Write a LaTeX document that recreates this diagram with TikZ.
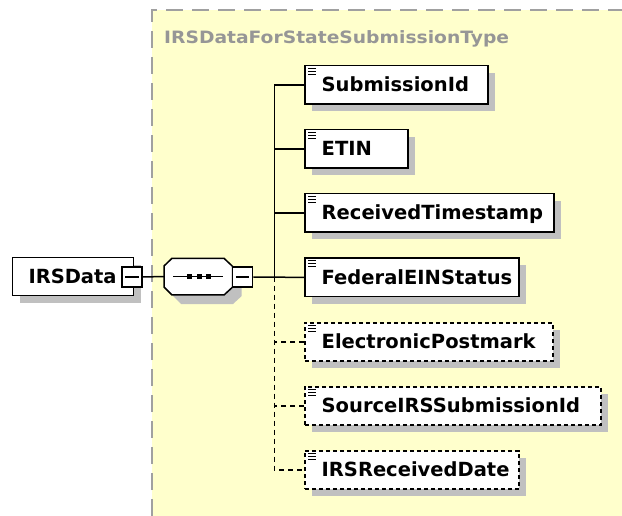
\documentclass[tikz,border=0pt]{standalone}
\usepackage{fontspec}
\usepackage{graphicx}
\setmainfont{DejaVu Sans}
\definecolor{ybg}{RGB}{255,255,204}
\definecolor{shd}{RGB}{192,192,192}
\definecolor{ttl}{RGB}{150,150,150}
\definecolor{brd}{RGB}{160,160,160}
\tikzset{
  elem/.style={draw=black, line width=1.5pt, fill=white, minimum height=38.3pt, anchor=north west, inner sep=0pt},
  optelem/.style={elem, dash pattern=on 4pt off 3pt},
  lbl/.style={anchor=base west, font=\fontsize{19.5}{19.5}\selectfont\bfseries, inner sep=0pt},
  conn/.style={line width=1.5pt},
  optconn/.style={conn, dash pattern=on 5pt off 4pt},
  minusbox/.style={draw, fill=white, line width=1.5pt, minimum size=20pt, inner sep=0pt},
}
\newcommand\elembox[6]{%
  \fill[shd] ({#2+8},{#3+8}) rectangle ({#2+#4+8},{#3+46.3});
  \node[#5, minimum width=#4pt] (#1) at (#2,#3) {};
  \draw[line width=1pt] ({#2+4},{#3+3.5}) -- +(8,0) ({#2+4},{#3+6.5}) -- +(8,0) ({#2+4},{#3+9.5}) -- +(8,0);
  \node[lbl] (#1-t) at ([xshift=17.5pt,yshift=-6.8pt]#1.west) {#6};
}
\newcommand\octpath{(164,266) -- (172,258.3) -- (224,258.3) -- (232.7,266.5) -- (232.7,287) -- (224,295) -- (172,295) -- (164,287) -- cycle}
\begin{document}
\begin{tikzpicture}[x=1pt,y=-1pt]
\useasboundingbox[fill=white] (0,0) rectangle (622,516);
% complex type region
\fill[ybg] (152,10) rectangle (622,516);
\draw[brd, line width=1.8pt, dash pattern=on 17pt off 9pt] (152,516) -- (152,10) -- (622,10);
\node[anchor=base west, text=ttl, font=\fontsize{17}{17}\selectfont\bfseries, inner sep=0pt] (title) at (164,43.3) {\scalebox{1.1}[1]{IRSDataForStateSubmissionType}};

% root element
\fill[shd] (19.7,264.7) rectangle (140.7,303);
\node[elem, minimum width=121pt] (root) at (11.7,256.7) {};
\node[lbl] (root-t) at ([xshift=16.6pt,yshift=-6.8pt]root.west) {IRSData};
\node[minusbox] (rootm) at (132.2,276.8) {};
\draw[line width=1.5pt] ([xshift=4pt]rootm.west) -- ([xshift=-4pt]rootm.east);

% sequence compositor
\fill[shd, shift={(9,9)}] \octpath;
\draw[fill=white, line width=1.5pt] \octpath;
\coordinate (seqw) at (164,276.7);
\draw[line width=1.5pt] (173.3,276.7) -- (223.3,276.7);
\fill (186.8,274.2) rectangle +(5,5);
\fill (196.8,274.2) rectangle +(5,5);
\fill (205.8,274.2) rectangle +(5,5);
\node[minusbox] (seqm) at (242.7,277) {};
\draw[line width=1.5pt] ([xshift=4pt]seqm.west) -- ([xshift=-4pt]seqm.east);

% child elements
\elembox{sub}{304}{65}{183}{elem}{SubmissionId}
\elembox{etin}{304}{129}{103}{elem}{ETIN}
\elembox{rts}{304}{193}{249}{elem}{ReceivedTimestamp}
\elembox{fein}{304}{257.5}{214}{elem}{FederalEINStatus}
\elembox{epm}{304}{322}{248}{optelem}{ElectronicPostmark}
\elembox{src}{304}{386}{296}{optelem}{SourceIRSSubmissionId}
\elembox{ird}{304}{450}{214}{optelem}{IRSReceivedDate}

% connectors
\coordinate (tk) at (274.3,276.7);
\draw[conn] (rootm.east) -- (seqw);
\draw[conn] (seqm.east) -- (fein.west);
\draw[conn] (sub.west) -| (tk);
\draw[conn] (etin.west) -- (etin.west -| tk);
\draw[conn] (rts.west) -- (rts.west -| tk);
\draw[optconn] (tk) |- (ird.west);
\draw[optconn] (epm.west) -- (epm.west -| tk);
\draw[optconn] (src.west) -- (src.west -| tk);
\end{tikzpicture}
\end{document}
